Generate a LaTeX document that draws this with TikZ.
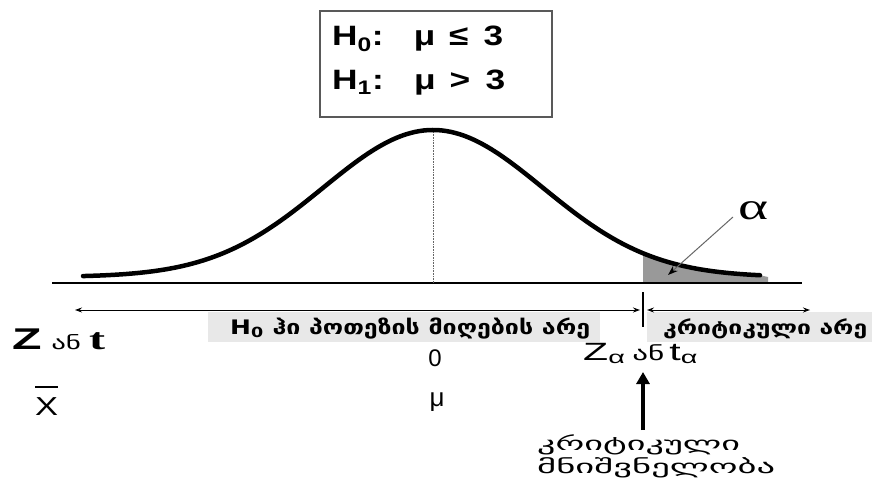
\documentclass[tikz,border=0pt]{standalone}
\usepackage{fontspec}
\usepackage{graphicx}
\setmainfont{Liberation Sans}
\newfontfamily\geo{DejaVu Sans}
\newfontfamily\tms{Liberation Serif}
\usetikzlibrary{arrows.meta}
\newcommand\xfit[2]{\resizebox{#1pt}{\height}{#2}}
\begin{document}
\begin{tikzpicture}[x=1pt,y=-1pt,
  band/.style={fill=black!9, draw=none},
  thinarrow/.style={line width=0.9pt, {Stealth[length=7pt,width=5pt]}-{Stealth[length=7pt,width=5pt]}},
  lbl/.style={inner sep=0pt},
  hyptext/.style={lbl, anchor=base west, font=\bfseries\fontsize{28}{28}\selectfont},
]
\useasboundingbox (0,0) rectangle (872,494);
% shaded tail
\fill[black!40] (643,283) -- plot[domain=643:760, samples=40] (\x, {283 - (147*exp(-0.5*((\x-433)/110)^2) + 6)}) -- (768,277) -- (768,283) -- cycle;
% axis
\draw[line width=2.6pt] (52,283) -- (802,283);
% mean dotted line
\draw[black!60, line width=0.6pt, densely dotted] (433,132) -- (433,283);
% curve
\draw[line width=4.5pt, line cap=round] plot[domain=83:760, samples=150] (\x, {283 - (147*exp(-0.5*((\x-433)/110)^2) + 6)});
% hypotheses box
\node[draw=black!65, line width=1.2pt, minimum width=232pt, minimum height=106pt, inner sep=0pt] (hyp) at (436,64) {};
\node[hyptext] (h0) at (332,46) {\xfit{171}{H\textsubscript{0}:\hspace{24pt}μ\hspace{11pt}≤\hspace{12pt}3}};
\node[hyptext] (h1) at (332,90) {\xfit{173}{H\textsubscript{1}:\hspace{24pt}μ\hspace{11pt}>\hspace{12pt}3}};
% bands
\fill[band] (208,312) rectangle (600,342);
\fill[band] (647,312) rectangle (872,342);
% region arrows
\coordinate (accL) at (75,310);
\coordinate (accR) at (640,310);
\coordinate (critL) at (647,310);
\coordinate (critR) at (810,310);
\draw[thinarrow] (accL) -- (accR);
\draw[thinarrow] (critL) -- (critR);
\coordinate (tickT) at (643,292);
\coordinate (tickB) at (643,327);
\draw[line width=1.3pt] (tickT) -- (tickB);
% labels
\node[lbl, anchor=base west, font=\geo\bfseries\fontsize{20}{20}\selectfont] (acc) at (230,334) {\xfit{360}{H\textsubscript{0} ჰი პოთეზის მიღების არე}};
\node[lbl, anchor=base west, font=\geo\bfseries\fontsize{19}{19}\selectfont] (crit) at (663,334) {\xfit{204}{კრიტიკული არე}};
\node[lbl, anchor=base west] (zt) at (12,349) {\xfit{93}{{\fontsize{30}{30}\selectfont\bfseries Z}\hspace{6pt}{\geo\fontsize{18}{18}\selectfont ან}\hspace{5pt}{\tms\bfseries\fontsize{30}{30}\selectfont t}}};
\node[lbl, font=\fontsize{24}{24}\selectfont] (zero) at (435,358) {0};
\node[lbl, anchor=base west, font=\fontsize{26}{26}\selectfont] (xbar) at (35,415) {\xfit{23}{X}};
\draw[line width=2.2pt] ([yshift=10pt]xbar.north west) -- ([yshift=10pt]xbar.north east);
\node[lbl, font=\fontsize{26}{26}\selectfont] (mu) at (437,402) {μ};
\node[lbl, anchor=base west, font=\fontsize{25}{25}\selectfont] (za) at (583,360) {\xfit{115}{Z\textsubscript{α}\hspace{4pt}{\geo\fontsize{19}{19}\selectfont ან}\hspace{3pt}t\textsubscript{α}}};
\node[lbl, font=\tms\fontsize{38}{38}\selectfont] (alpha) at (753,211) {\xfit{30}{α}};
\node[lbl, anchor=base west, font=\geo\fontsize{19}{19}\selectfont] (cv1) at (537,450) {\xfit{203}{კრიტიკული}};
\node[lbl, anchor=base west, font=\geo\fontsize{19}{19}\selectfont] (cv2) at (537,473) {\xfit{238}{მნიშვნელობა}};
% critical value arrow
\coordinate (cvTop) at (643,372);
\coordinate (cvBot) at (643,430);
\draw[line width=3.5pt, -{Triangle[length=12pt,width=13pt]}] (cvBot) -- (cvTop);
% alpha pointer
\coordinate (aS) at (733,217);
\coordinate (aT) at (668,275);
\draw[black!60, line width=1pt, -{Stealth[length=10pt,width=7pt,black]}] (aS) -- (aT);
\end{tikzpicture}
\end{document}
